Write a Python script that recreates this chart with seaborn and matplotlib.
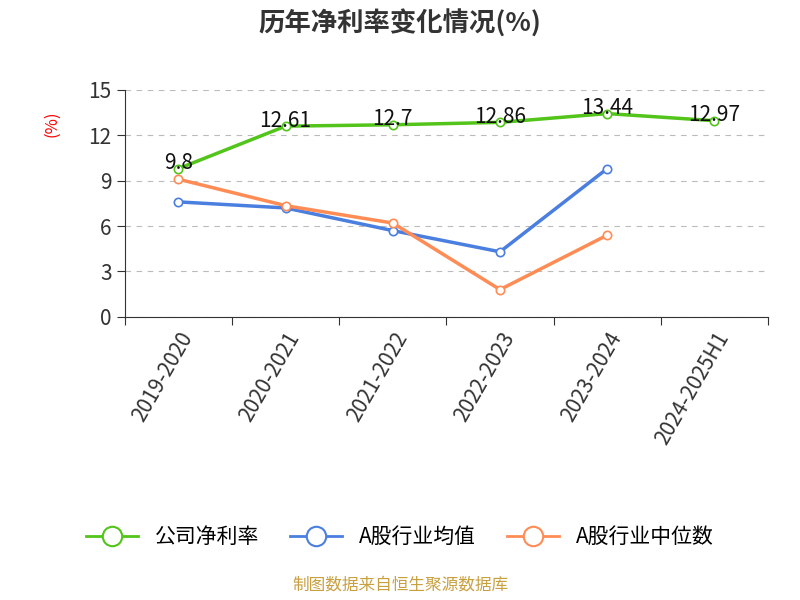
import matplotlib
matplotlib.use("Agg")
import matplotlib.pyplot as plt
from matplotlib import font_manager
import seaborn as sns
import pandas as pd

categories = ["2019-2020", "2020-2021", "2021-2022", "2022-2023", "2023-2024", "2024-2025H1"]
company = [9.8, 12.61, 12.7, 12.86, 13.44, 12.97]
industry_avg = [7.6, 7.2, 5.7, 4.3, 9.8]
industry_median = [9.1, 7.35, 6.2, 1.8, 5.4]
yticks = [0, 3, 6, 9, 12, 15]

names = {f.name for f in font_manager.fontManager.ttflist}
cjk = [n for n in ["Noto Sans CJK SC", "Noto Sans CJK JP", "Noto Sans CJK TC", "Noto Sans CJK KR"] if n in names]
if not cjk:
    cjk = [f.name for f in font_manager.fontManager.ttflist if "CJK" in f.name][:1]
plt.rcParams["font.family"] = cjk + ["DejaVu Sans"]
fig = plt.figure(figsize=(8, 6), dpi=100)
ax = fig.add_axes([0.156, 0.472, 0.804, 0.378])

rows = []
for name, vals in [("公司净利率", company), ("A股行业均值", industry_avg), ("A股行业中位数", industry_median)]:
    for i, v in enumerate(vals):
        rows.append({"x": i, "y": v, "s": name})
df = pd.DataFrame(rows)
pal = {"公司净利率": "#52c41a", "A股行业均值": "#4a7fe0", "A股行业中位数": "#ff8c55"}
sns.lineplot(data=df, x="x", y="y", hue="s", palette=pal, marker="o", markersize=6,
             markerfacecolor="white", markeredgewidth=1.2, linewidth=2.5, ax=ax, legend=False)
for l in ax.lines:
    l.set_markeredgecolor(l.get_color())

for i, v in enumerate(company):
    ax.text(i, v + 0.35, f"{v:g}", ha="center", va="center", fontsize=15, color="#111")

ax.set_xlim(-0.5, 5.5)
ax.set_ylim(0, 15)
ax.set_yticks(yticks)
ax.set_yticklabels([str(t) for t in yticks], fontsize=15, color="#333")
ax.set_xticks([i - 0.5 for i in range(7)], minor=False)
ax.set_xticklabels([""] * 7)
ax.set_xticks(range(6), minor=True)
ax.set_xticklabels(categories, minor=True, rotation=60, ha="right", rotation_mode="anchor", fontsize=15, color="#333")
ax.tick_params(axis="x", which="minor", length=0, pad=8)
ax.tick_params(axis="x", which="major", length=6, color="#333")
ax.tick_params(axis="y", length=6, color="#333")
ax.grid(axis="y", linestyle=(0, (5, 5)), color="#bbb")
for s in ["top", "right"]:
    ax.spines[s].set_visible(False)
ax.spines["left"].set_color("#333")
ax.spines["bottom"].set_color("#333")
ax.set_xlabel("")
ax.set_ylabel("(%)", color="red", fontsize=12)
ax.yaxis.set_label_coords(-0.1, 0.85)

fig.text(0.5, 0.96, "历年净利率变化情况(%)", ha="center", va="center", fontsize=19, fontweight="bold", color="#333")
from matplotlib.lines import Line2D
handles = [Line2D([], [], color=c, marker="o", markersize=14, markerfacecolor="white", linewidth=2, markeredgewidth=1.5) for c in pal.values()]
fig.legend(handles, list(pal.keys()), loc="center", bbox_to_anchor=(0.5, 0.105), ncol=3, frameon=False, fontsize=15, handlelength=2.5, columnspacing=1.5)
fig.text(0.5, 0.018, "制图数据来自恒生聚源数据库", ha="center", fontsize=12, color="#c8a040")
fig.savefig("out.png")
